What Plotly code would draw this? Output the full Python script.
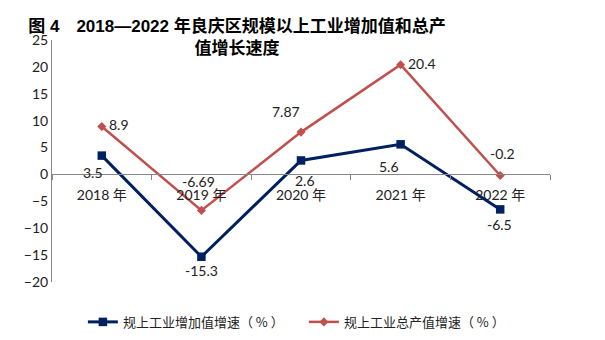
import plotly.graph_objects as go

categories = ["2018 年", "2019 年", "2020 年", "2021 年", "2022 年"]
added_value = [3.5, -15.3, 2.6, 5.6, -6.5]
output_value = [8.9, -6.69, 7.87, 20.4, -0.2]
series_names = ["规上工业增加值增速（ % ）", "规上工业总产值增速（ % ）"]
title_text = "图 4　2018—2022 年良庆区规模以上工业增加值和总产<br>值增长速度"

# label offsets (pixels, dx right, dy down) – styling only
blue_off = [(-9, 17), (0, 14), (4, 20), (-12, 22), (-1, 15)]
red_off = [(17, -2), (-3, -29), (-15, -21), (21, -1), (2, -22)]

BLUE = "#002060"
RED = "#C0504D"
NUMFONT = "Lato, 'Noto Sans CJK SC', sans-serif"

fig = go.Figure()
fig.add_trace(go.Scatter(
    x=categories, y=added_value, name=series_names[0], mode="lines+markers",
    line=dict(color=BLUE, width=3),
    marker=dict(symbol="square", size=8.5, color=BLUE),
))
fig.add_trace(go.Scatter(
    x=categories, y=output_value, name=series_names[1], mode="lines+markers",
    line=dict(color=RED, width=2.5),
    marker=dict(symbol="diamond", size=7, color=RED),
))

anns = []
for vals, offs in ((added_value, blue_off), (output_value, red_off)):
    for c, v, (dx, dy) in zip(categories, vals, offs):
        anns.append(dict(
            x=c, y=v, xref="x", yref="y", text=str(v), showarrow=False,
            xanchor="center", yanchor="middle", xshift=dx, yshift=-dy,
            font=dict(family=NUMFONT, size=14, color="#222"),
        ))

fig.update_layout(
    width=605, height=340,
    margin=dict(l=52, r=55, t=40, b=58, autoexpand=False),
    paper_bgcolor="white", plot_bgcolor="white",
    title=dict(
        text=title_text, x=237 / 605, xref="container", xanchor="center",
        y=1 - 32 / 340, yref="container", yanchor="top",
        font=dict(family="'Liberation Sans', 'Noto Sans CJK SC', sans-serif",
                  size=17, color="#000", weight="bold"),
    ),
    xaxis=dict(
        type="category", range=[-0.5, 4.5], tickson="boundaries",
        ticks="outside", ticklen=5, tickcolor="#888", showline=True,
        linecolor="#888", linewidth=1, showgrid=False, zeroline=False,
        anchor="free", position=20 / 45, ticklabelstandoff=8,
        tickfont=dict(family=NUMFONT, size=14, color="#222"),
    ),
    yaxis=dict(
        range=[-20, 25], dtick=5, tick0=0, showline=True, linecolor="#888",
        linewidth=1, showgrid=False, zeroline=False, ticks="",
        tickfont=dict(family=NUMFONT, size=14, color="#222"),
    ),
    showlegend=True,
    legend=dict(
        orientation="h", x=0.062, xanchor="left", y=-0.165, yanchor="middle",
        entrywidth=176, font=dict(family="'Noto Sans CJK SC', sans-serif",
                                  size=13, color="#222"),
        bgcolor="rgba(0,0,0,0)",
    ),
    annotations=anns,
)

fig.write_html("out.html")
